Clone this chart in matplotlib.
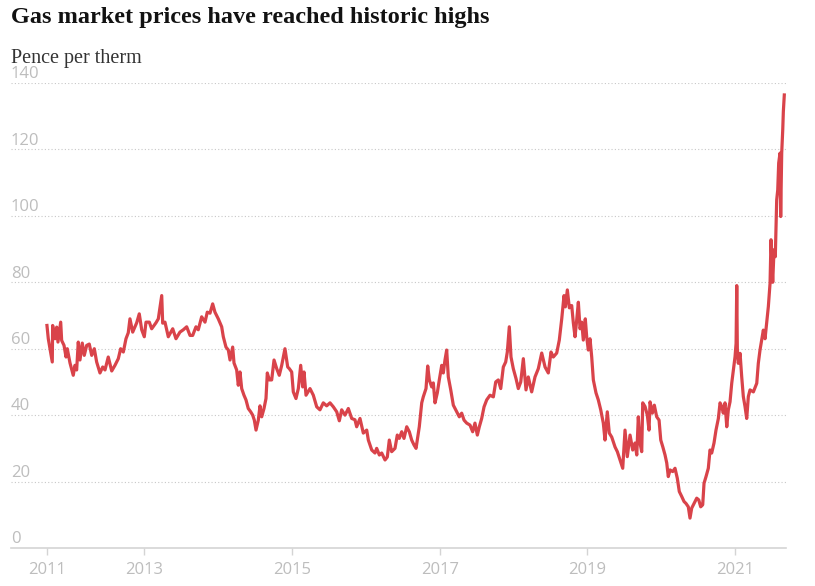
import matplotlib.pyplot as plt

# Gas price, pence per therm, dates as decimal years
years = [
    2011.682, 2011.700, 2011.754, 2011.759, 2011.791, 2011.814, 2011.831, 2011.868, 2011.881, 2011.913,
    2011.940, 2011.957, 2011.994, 2012.038, 2012.061, 2012.084, 2012.106, 2012.129, 2012.160, 2012.187,
    2012.220, 2012.255, 2012.288, 2012.323, 2012.355, 2012.400, 2012.437, 2012.468, 2012.512, 2012.559,
    2012.603, 2012.648, 2012.680, 2012.716, 2012.752, 2012.783, 2012.806, 2012.843, 2012.897, 2012.932,
    2012.965, 2013.000, 2013.023, 2013.068, 2013.100, 2013.158, 2013.190, 2013.236, 2013.249, 2013.280,
    2013.325, 2013.385, 2013.429, 2013.483, 2013.528, 2013.574, 2013.619, 2013.655, 2013.700, 2013.731,
    2013.777, 2013.822, 2013.853, 2013.890, 2013.926, 2013.957, 2014.002, 2014.048, 2014.070, 2014.106,
    2014.138, 2014.161, 2014.197, 2014.215, 2014.251, 2014.273, 2014.296, 2014.319, 2014.350, 2014.377,
    2014.408, 2014.441, 2014.468, 2014.490, 2014.513, 2014.544, 2014.567, 2014.590, 2014.621, 2014.648,
    2014.666, 2014.693, 2014.725, 2014.757, 2014.793, 2014.828, 2014.861, 2014.905, 2014.942, 2014.964,
    2014.996, 2015.018, 2015.054, 2015.086, 2015.118, 2015.145, 2015.163, 2015.190, 2015.244, 2015.289,
    2015.335, 2015.379, 2015.424, 2015.470, 2015.515, 2015.560, 2015.606, 2015.641, 2015.673, 2015.718,
    2015.763, 2015.809, 2015.853, 2015.876, 2015.921, 2015.966, 2016.012, 2016.034, 2016.080, 2016.124,
    2016.147, 2016.183, 2016.215, 2016.260, 2016.291, 2016.318, 2016.350, 2016.395, 2016.426, 2016.453,
    2016.486, 2016.517, 2016.554, 2016.589, 2016.621, 2016.653, 2016.680, 2016.697, 2016.724, 2016.757,
    2016.778, 2016.815, 2016.838, 2016.860, 2016.892, 2016.914, 2016.937, 2016.968, 2016.995, 2017.028,
    2017.049, 2017.072, 2017.095, 2017.117, 2017.150, 2017.185, 2017.231, 2017.266, 2017.298, 2017.330,
    2017.366, 2017.411, 2017.447, 2017.478, 2017.510, 2017.537, 2017.569, 2017.601, 2017.637, 2017.682,
    2017.727, 2017.759, 2017.794, 2017.827, 2017.862, 2017.894, 2017.916, 2017.943, 2017.966, 2017.997,
    2018.034, 2018.065, 2018.098, 2018.133, 2018.169, 2018.200, 2018.246, 2018.291, 2018.336, 2018.382,
    2018.427, 2018.471, 2018.508, 2018.539, 2018.585, 2018.620, 2018.653, 2018.684, 2018.702, 2018.729,
    2018.756, 2018.788, 2018.810, 2018.833, 2018.856, 2018.878, 2018.901, 2018.924, 2018.945, 2018.972,
    2018.991, 2019.013, 2019.036, 2019.059, 2019.081, 2019.117, 2019.148, 2019.181, 2019.216, 2019.239,
    2019.270, 2019.297, 2019.330, 2019.375, 2019.406, 2019.442, 2019.479, 2019.510, 2019.541, 2019.578,
    2019.614, 2019.645, 2019.669, 2019.690, 2019.713, 2019.736, 2019.750, 2019.781, 2019.812, 2019.835,
    2019.849, 2019.880, 2019.907, 2019.939, 2019.971, 2019.994, 2020.021, 2020.052, 2020.075, 2020.096,
    2020.120, 2020.156, 2020.187, 2020.218, 2020.245, 2020.278, 2020.309, 2020.336, 2020.367, 2020.390,
    2020.413, 2020.445, 2020.481, 2020.508, 2020.535, 2020.562, 2020.580, 2020.607, 2020.638, 2020.661,
    2020.684, 2020.715, 2020.742, 2020.774, 2020.797, 2020.820, 2020.841, 2020.864, 2020.888, 2020.909,
    2020.932, 2020.955, 2020.977, 2021.000, 2021.014, 2021.023, 2021.031, 2021.044, 2021.068, 2021.090,
    2021.112, 2021.135, 2021.158, 2021.180, 2021.203, 2021.248, 2021.294, 2021.315, 2021.338, 2021.361,
    2021.383, 2021.406, 2021.451, 2021.474, 2021.487, 2021.510, 2021.528, 2021.545, 2021.564, 2021.578,
    2021.591, 2021.609, 2021.618, 2021.632, 2021.646, 2021.654, 2021.667,
]
prices = [
    67, 63, 56, 67, 63, 66.5, 62, 68, 62.5, 61,
    57.5, 60, 55.7, 52, 55, 53.6, 62, 56.6, 61.7, 58,
    61, 61.4, 58, 60, 56, 52.7, 54.5, 53.6, 57.5, 53.3,
    55, 57, 60, 59, 63, 64.8, 69, 65, 67.8, 70.5,
    65.7, 63.6, 68, 68, 66, 67.8, 69, 76, 67.7, 68,
    63.6, 66, 63, 65, 65.7, 66.6, 64, 64, 66.6, 65.7,
    69.6, 68, 71, 70.7, 73.5, 71, 69, 66.6, 63.6, 60.5,
    59.6, 56.6, 60.5, 55.7, 53.6, 49, 53, 48, 46, 44.6,
    42, 41, 40, 38.5, 35.5, 38.5, 42.8, 39.5, 42, 45,
    52.7, 50.6, 50.6, 56.6, 54, 52, 55, 60, 54.5, 54,
    53, 47, 45, 48, 55, 48.5, 53, 46, 48, 46,
    42.5, 41.6, 43.7, 42.8, 43.7, 42.5, 41, 38.3, 41.6, 40,
    42, 39, 38.6, 36.5, 39, 34.6, 35.5, 32.5, 29.5, 28.6,
    30, 28, 28.6, 26.5, 27.4, 32.5, 29, 30, 34, 33,
    35, 33, 36.5, 35, 32.5, 31, 30, 32.5, 36.5, 43.7,
    45.5, 48, 54.8, 50.6, 48.5, 49.7, 43.7, 46.7, 50.6, 55,
    52.7, 56.6, 59.6, 51.5, 47.6, 43, 41, 39.5, 40.6, 38.5,
    37.6, 37, 35, 37.6, 34, 36.5, 39, 42.5, 44.6, 46,
    45.5, 50, 50.6, 48, 54.5, 56, 59, 66.6, 57.5, 54,
    51, 48, 50, 57, 47.6, 51.5, 47, 51.5, 54, 58.7,
    54.5, 52.7, 59, 57.5, 58.7, 62.6, 69, 76, 72.6, 77.7,
    72.3, 73, 67.8, 63.6, 68.7, 74, 66, 68, 62.6, 69,
    63.6, 59.6, 63, 57.5, 50.6, 46.7, 44.6, 41.6, 37.6, 32.5,
    41, 34.6, 33.4, 30.4, 29, 26.5, 24, 35.5, 27.5, 34,
    29.5, 31.6, 28, 39.5, 31.6, 29, 43.7, 42.6, 40, 35.5,
    44, 40.6, 43, 39.5, 38.5, 32.5, 30.5, 28, 25.6, 21.5,
    23.5, 23, 24, 21, 17, 15.5, 14, 13.4, 12.4, 9,
    12, 13.4, 15, 14.5, 12.4, 13, 19.5, 21.5, 24, 29.5,
    28.6, 31.6, 35.5, 39, 43.7, 42.6, 40.6, 43.7, 36.5, 41.6,
    44, 49.6, 53.6, 57.6, 61.6, 79, 60, 55.6, 58.6, 51.6,
    45.6, 42.6, 39, 45.6, 47.6, 47, 49.6, 55.6, 59.6, 62.6,
    65.6, 63, 72.7, 79.7, 92.8, 80, 89.8, 87.7, 104.8, 107.8,
    115.9, 118.9, 99.8, 119, 126, 131.4, 136.4,
]

y_ticks = [0, 20, 40, 60, 80, 100, 120, 140]
x_ticks = [years[0], 2013, 2015, 2017, 2019, 2021]
x_labels = ["2011", "2013", "2015", "2017", "2019", "2021"]

fig = plt.figure(figsize=(8.15, 5.86), dpi=100)
ax = fig.add_axes([11 / 815, 38 / 586, 775 / 815, 465 / 586])

ax.plot(years, prices, color="#d9434a", linewidth=2.3, solid_joinstyle="round")

ax.set_xlim(2011.195, 2021.69)
ax.set_ylim(0, 140)

for s in ["top", "right", "left"]:
    ax.spines[s].set_visible(False)
ax.spines["bottom"].set_color("#d4d4d4")
ax.spines["bottom"].set_linewidth(1.2)

# dotted gridlines
for v in y_ticks[1:]:
    ax.axhline(v, color="#c8c8c8", linewidth=0.8, linestyle=(0, (1, 2)), zorder=0)

ax.set_yticks([])
for v in y_ticks:
    ax.annotate(str(v), xy=(0, v), xycoords=ax.get_yaxis_transform(),
                xytext=(0, 0.5), textcoords="offset points", ha="left", va="bottom",
                fontsize=12, color="#bdbdbd", family="Open Sans")

ax.set_xticks(x_ticks)
ax.set_xticklabels(x_labels, fontsize=12, color="#bdbdbd", family="Open Sans")
ax.tick_params(axis="x", length=5, width=1, color="#d4d4d4", pad=5)

fig.text(11 / 815, 1 - 18 / 586, "Gas market prices have reached historic highs",
         fontsize=17.5, fontweight="bold", family="Liberation Serif", va="center", color="#121212")
fig.text(11 / 815, 1 - 59 / 586, "Pence per therm", fontsize=14.5, family="Liberation Serif",
         va="center", color="#333333")

fig.savefig("out.png", dpi=100)
